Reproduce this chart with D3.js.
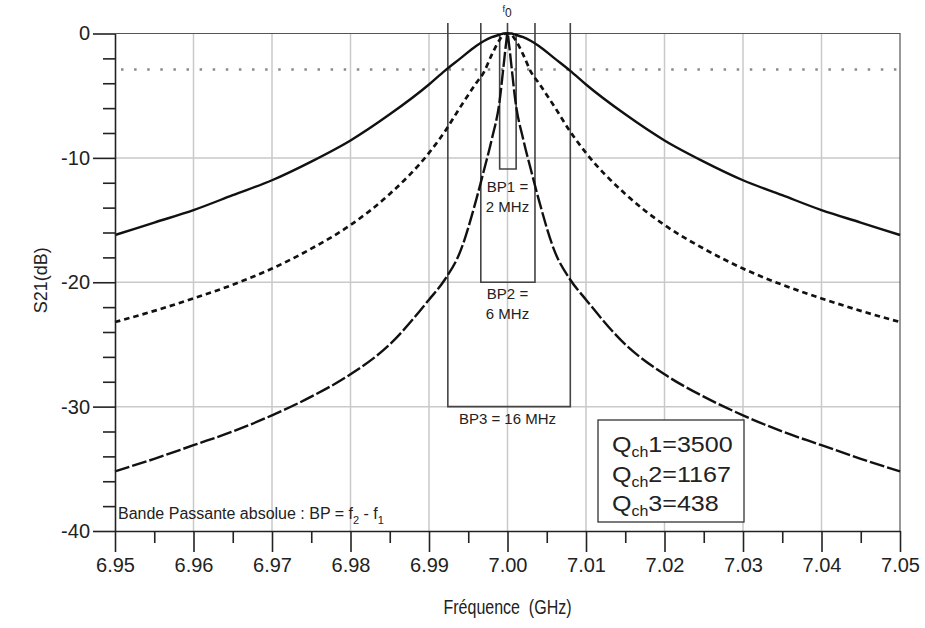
<!DOCTYPE html>
<html lang="fr">
<head>
<meta charset="UTF-8">
<script src="https://cdn.jsdelivr.net/npm/d3@7"></script>
<title>S21 resonateurs</title>
<style>
    body { margin: 0; background: #fff; }
    svg text { font-family: 'Liberation Sans', Arial, sans-serif; fill: #222; }
</style>
</head>
<body>
<svg id="chart" width="925" height="628"></svg>
<script>
    // frequencies (GHz) shared by the three curves
    const freqs = [6.95, 6.955, 6.96, 6.965, 6.97, 6.975, 6.98, 6.985, 6.99, 6.992, 6.994, 6.996, 6.997, 6.998, 6.999, 6.9995, 6.9998,
        7.00,
        7.0002, 7.0005, 7.001, 7.002, 7.003, 7.004, 7.006, 7.008, 7.01, 7.015, 7.02, 7.025, 7.03, 7.035, 7.04, 7.045, 7.05];
    // S21 in dB
    const s21_q3 = [-16.2, -15.2, -14.2, -13.0, -11.8, -10.3, -8.6, -6.5, -4.1, -3.0, -2.0, -1.0, -0.6, -0.3, -0.1, 0, 0,
        0,
        0, 0, -0.1, -0.3, -0.6, -1.0, -2.0, -3.0, -4.1, -6.5, -8.6, -10.3, -11.8, -13.0, -14.2, -15.2, -16.2];
    const s21_q2 = [-23.2, -22.3, -21.3, -20.2, -18.9, -17.3, -15.4, -12.9, -9.6, -7.9, -5.9, -4.0, -3.1, -1.7, -0.5, -0.1, 0,
        0,
        0, -0.1, -0.5, -1.7, -3.1, -4.0, -5.9, -7.9, -9.6, -12.9, -15.4, -17.3, -18.9, -20.2, -21.3, -22.3, -23.2];
    const s21_q1 = [-35.2, -34.2, -33.1, -32.0, -30.7, -29.2, -27.4, -25.0, -21.4, -19.8, -17.5, -13.4, -11.0, -8.5, -5.4, -2.6, -0.9,
        0,
        -0.9, -2.6, -5.4, -8.5, -11.0, -13.4, -17.5, -19.8, -21.4, -25.0, -27.4, -29.2, -30.7, -32.0, -33.1, -34.2, -35.2];

    const xTicks = [6.95, 6.96, 6.97, 6.98, 6.99, 7.00, 7.01, 7.02, 7.03, 7.04, 7.05];
    const xMinor = [6.955, 6.965, 6.975, 6.985, 6.995, 7.005, 7.015, 7.025, 7.035, 7.045];
    const yTicks = [0, -10, -20, -30, -40];
    const yMinor = [-2, -4, -6, -8, -12, -14, -16, -18, -22, -24, -26, -28, -32, -34, -36, -38];

    // bandwidth boxes: [f1, f2, bottom dB]
    const bp1 = [6.999, 7.0011, -10.9];
    const bp2 = [6.9966, 7.0035, -20];
    const bp3 = [6.9924, 7.008, -30];
    const bpTop = 0.85;
    const halfPower = -2.9;
    const f0 = 7.00;

    const legendRows = [["1", "3500"], ["2", "1167"], ["3", "438"]];

    const svg = d3.select("#chart");
    const x = d3.scaleLinear().domain([6.95, 7.05]).range([115, 900]);
    const y = d3.scaleLinear().domain([-40, 0]).range([531, 33.5]);

    // grid
    svg.append("g").selectAll("line")
        .data(xTicks.slice(1, -1))
        .enter().append("line")
        .attr("x1", d => x(d)).attr("x2", d => x(d))
        .attr("y1", y(0)).attr("y2", y(-40))
        .attr("stroke", "#c9c9c9").attr("stroke-width", 1.5);
    svg.append("g").selectAll("line")
        .data(yTicks.slice(1, -1))
        .enter().append("line")
        .attr("x1", x(6.95)).attr("x2", x(7.05))
        .attr("y1", d => y(d)).attr("y2", d => y(d))
        .attr("stroke", "#c9c9c9").attr("stroke-width", 1.5);

    // -3 dB dotted line
    svg.append("line")
        .attr("x1", x(6.95) + 6).attr("x2", x(7.05))
        .attr("y1", y(halfPower)).attr("y2", y(halfPower))
        .attr("stroke", "#8a8a8a").attr("stroke-width", 2.5)
        .attr("stroke-dasharray", "2.5,10.6");

    // frame top / right
    svg.append("path")
        .attr("d", `M${x(6.95)},${y(0)}H${x(7.05)}V${y(-40)}`)
        .attr("fill", "none").attr("stroke", "#555").attr("stroke-width", 1.2);

    // bandwidth boxes
    const boxes = svg.append("g").attr("fill", "none").attr("stroke", "#444").attr("stroke-width", 1.6);
    [bp2, bp3].forEach(b => {
        boxes.append("path")
            .attr("d", `M${x(b[0])},${y(bpTop)}V${y(b[2])}H${x(b[1])}V${y(bpTop)}`);
    });
    boxes.append("path")
        .attr("d", `M${x(bp1[0])},${y(0)}V${y(bp1[2])}H${x(bp1[1])}V${y(0)}`);
    boxes.append("line")
        .attr("x1", x(f0)).attr("x2", x(f0))
        .attr("y1", y(bpTop)).attr("y2", y(0));

    // curves
    const line = data => d3.line()
        .x((d, i) => x(freqs[i]))
        .y(d => y(d))
        .curve(d3.curveMonotoneX)(data);
    const curves = [
        { values: s21_q3, dash: null, width: 2.4 },
        { values: s21_q2, dash: "5.5,4", width: 2.7 },
        { values: s21_q1, dash: "15,3", width: 2.4 }
    ];
    svg.append("g").selectAll("path")
        .data(curves)
        .enter().append("path")
        .attr("d", d => line(d.values))
        .attr("fill", "none")
        .attr("stroke", "#111")
        .attr("stroke-width", d => d.width)
        .attr("stroke-dasharray", d => d.dash);

    // axes
    const axisStyle = g => {
        g.select(".domain").attr("stroke", "#222").attr("stroke-width", 1.6);
        g.selectAll(".tick line").attr("stroke", "#222").attr("stroke-width", 1.6);
        g.selectAll("text").attr("font-size", 20).attr("fill", "#222")
            .attr("font-family", "'Liberation Sans', Arial, sans-serif");
    };
    svg.append("g")
        .attr("transform", `translate(${x(6.95)},0)`)
        .call(d3.axisLeft(y).tickValues(yTicks).tickSize(22).tickSizeOuter(0).tickPadding(3)
            .tickFormat(d => String(d)))
        .call(axisStyle);
    svg.append("g")
        .attr("transform", `translate(${x(6.95)},0)`)
        .call(d3.axisLeft(y).tickValues(yMinor).tickSize(12).tickFormat(""))
        .call(axisStyle)
        .call(g => g.select(".domain").remove());
    svg.append("g")
        .attr("transform", `translate(0,${y(-40)})`)
        .call(d3.axisBottom(x).tickValues(xTicks).tickSize(21).tickSizeOuter(0).tickPadding(6)
            .tickFormat(d => d.toFixed(2)))
        .call(axisStyle);
    svg.append("g")
        .attr("transform", `translate(0,${y(-40)})`)
        .call(d3.axisBottom(x).tickValues(xMinor).tickSize(12).tickFormat(""))
        .call(axisStyle)
        .call(g => g.select(".domain").remove());

    // axis titles
    svg.append("text")
        .attr("transform", `translate(47,${(y(0) + y(-40)) / 2 - 2}) rotate(-90)`)
        .attr("text-anchor", "middle")
        .attr("font-size", 18)
        .text("S21(dB)");
    svg.append("text")
        .attr("transform", `translate(${x(7.00)},614) scale(0.8,1)`)
        .attr("text-anchor", "middle")
        .attr("font-size", 20)
        .attr("xml:space", "preserve")
        .text("Fréquence  (GHz)");

    // f0 marker
    const f0Label = svg.append("text")
        .attr("x", x(f0) - 5).attr("y", 12)
        .attr("font-size", 9);
    f0Label.append("tspan").text("f");
    f0Label.append("tspan").attr("font-size", 12).attr("dy", 5).text("0");

    // bandwidth labels
    const bpLabel = (lines, yPos) => {
        lines.forEach((t, i) => {
            svg.append("text")
                .attr("x", x(f0)).attr("y", yPos + i * 20)
                .attr("text-anchor", "middle")
                .attr("font-size", 15)
                .attr("fill", "#333")
                .text(t);
        });
    };
    bpLabel(["BP1 =", "2 MHz"], 192);
    bpLabel(["BP2 =", "6 MHz"], 299);
    bpLabel(["BP3 = 16 MHz"], 424);

    // definition text
    const bpText = svg.append("text")
        .attr("x", 118).attr("y", 519)
        .attr("font-size", 16);
    bpText.append("tspan").text("Bande Passante absolue : BP = f");
    bpText.append("tspan").attr("font-size", 11).attr("dy", 5).text("2");
    bpText.append("tspan").attr("dy", -5).text(" - f");
    bpText.append("tspan").attr("font-size", 11).attr("dy", 5).text("1");

    // Q legend
    const legend = svg.append("g").attr("transform", "translate(598,420)");
    legend.append("rect")
        .attr("width", 146).attr("height", 102)
        .attr("fill", "#fff").attr("stroke", "#333").attr("stroke-width", 1.3);
    legendRows.forEach((r, i) => {
        const t = legend.append("text")
            .attr("transform", `translate(14,${32 + i * 29.5}) scale(1.14,1)`)
            .attr("font-size", 22);
        t.append("tspan").text("Q");
        t.append("tspan").attr("font-size", 14).attr("dy", 5).text("ch");
        t.append("tspan").attr("dy", -5).text(r[0] + "=" + r[1]);
    });
</script>
</body>
</html>
